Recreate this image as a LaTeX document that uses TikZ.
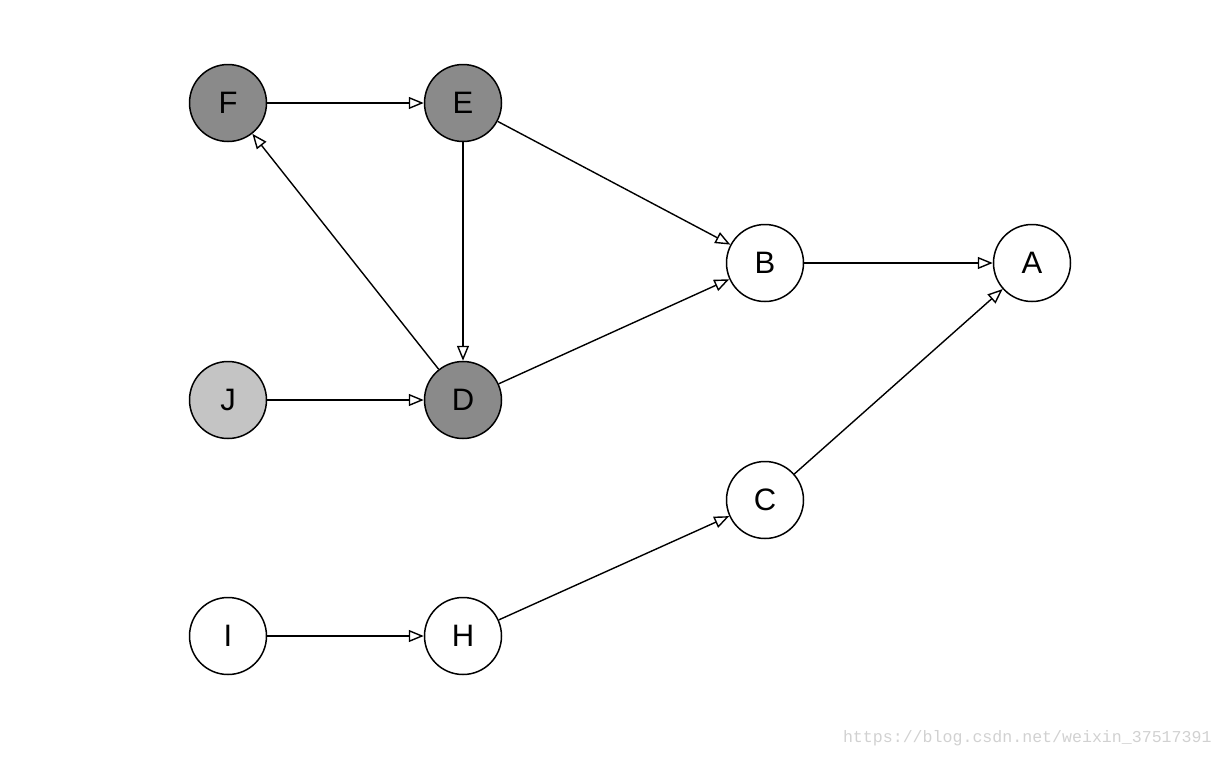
\documentclass[tikz,border=0pt]{standalone}
\usepackage{fontspec}
\setmainfont{Liberation Sans}
\newfontfamily\wmfont{Liberation Mono}
\usetikzlibrary{arrows.meta}

\begin{document}
\begin{tikzpicture}[
  x=0.5pt, y=-0.5pt,
  vtx/.style={draw, circle, minimum size=38.5pt, inner sep=0pt, line width=0.75pt, fill=white, font=\fontsize{15.5}{18}\selectfont},
  dark/.style={vtx, fill=black!46},
  light/.style={vtx, fill=black!23},
  arr/.style={-{Triangle[open, length=7.5pt, width=6pt]}, line width=0.7pt}
]
\useasboundingbox (0,0) rectangle (1222,756);

\node[dark] (F) at (228,103) {F};
\node[dark] (E) at (463,103) {E};
\node[vtx] (B) at (765,263) {B};
\node[vtx] (A) at (1032,263) {A};
\node[light] (J) at (228,400) {J};
\node[dark] (D) at (463,400) {D};
\node[vtx] (C) at (765,500) {C};
\node[vtx] (I) at (228,636) {I};
\node[vtx] (H) at (463,636) {H};

\draw[arr] (F) -- (E);
\draw[arr] (E) -- (B);
\draw[arr] (E) -- (D);
\draw[arr] (D) -- (F);
\draw[arr] (D) -- (B);
\draw[arr] (J) -- (D);
\draw[arr] (B) -- (A);
\draw[arr] (C) -- (A);
\draw[arr] (I) -- (H);
\draw[arr] (H) -- (C);

% watermark
\node[anchor=base east, text=black!18, font=\wmfont\fontsize{8.3}{10}\selectfont, inner sep=0pt] (wm) at (1212,742) {https://blog.csdn.net/weixin\_37517391};
\end{tikzpicture}
\end{document}
